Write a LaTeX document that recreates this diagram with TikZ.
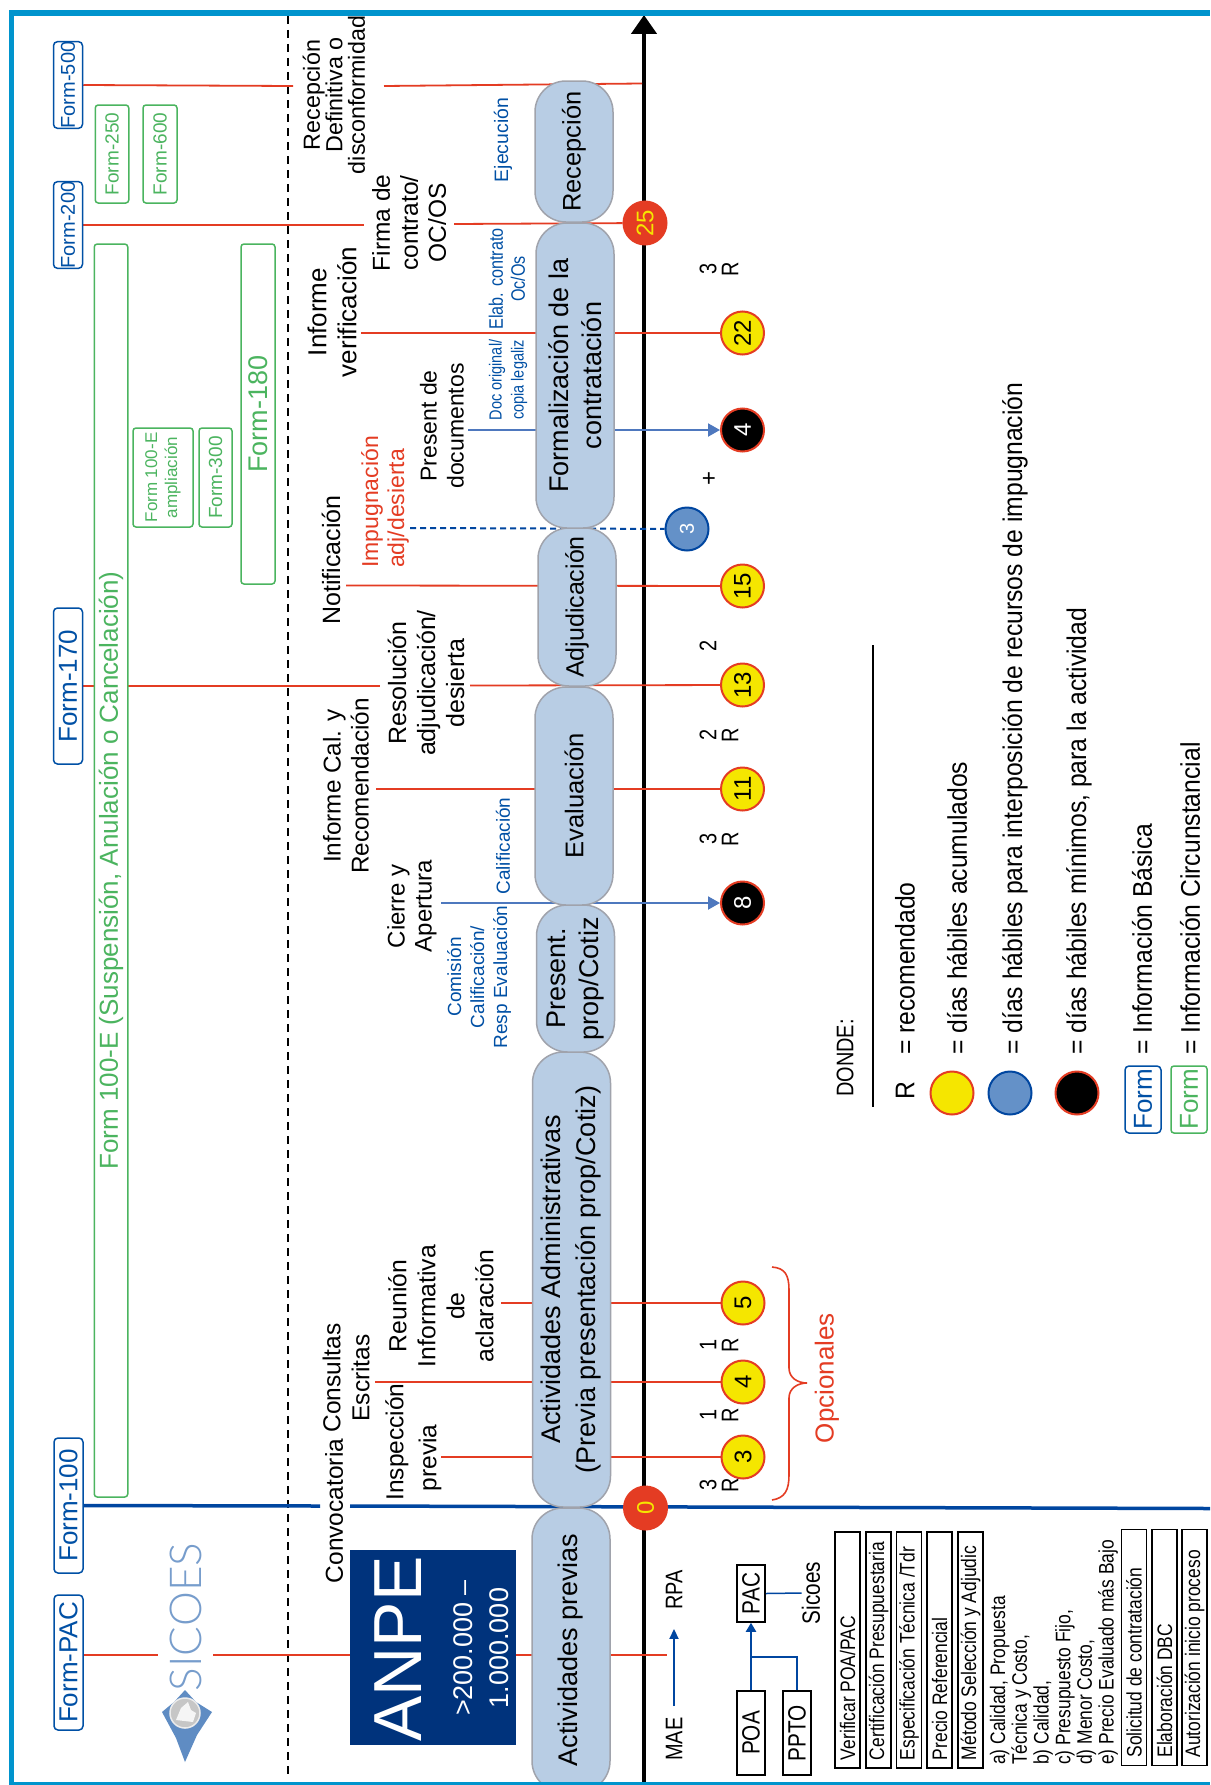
\documentclass[tikz,border=0pt]{standalone}
\usepackage{fontspec}
\setmainfont{Liberation Sans}
\newfontfamily\nrw[FakeStretch=0.83]{Liberation Sans}
\newfontfamily\lgd[FakeStretch=0.915]{Liberation Sans}
\newfontfamily\logofont{Lato Light}
\usetikzlibrary{backgrounds,arrows.meta,shapes.geometric}
\newcommand\fsl[2]{\fontsize{#1}{#2}\selectfont}
\definecolor{frameC}{RGB}{0,148,205}
\definecolor{navy}{RGB}{0,51,124}
\definecolor{bluF}{RGB}{0,80,165}
\definecolor{bluL}{RGB}{0,70,160}
\definecolor{bluA}{RGB}{78,120,190}
\definecolor{grn}{RGB}{75,180,95}
\definecolor{redL}{RGB}{228,60,35}
\definecolor{pillF}{RGB}{184,205,228}
\definecolor{pillD}{RGB}{160,163,172}
\definecolor{yel}{RGB}{245,230,0}
\definecolor{bluC}{RGB}{100,145,200}
\definecolor{logoB}{RGB}{95,140,195}
\tikzset{
 lbl/.style={rotate=90,inner sep=0pt,align=center},
 formb/.style={rotate=90,draw=bluF,line width=1.5pt,rounded corners=4pt,fill=white,inner sep=0pt,text=bluF,minimum height=29pt},
 formg/.style={rotate=90,draw=grn,line width=1.5pt,rounded corners=3pt,fill=white,inner sep=0pt,text=grn,align=center},
 pill/.style={rotate=90,draw=pillD,line width=1.5pt,fill=pillF,rounded corners=31pt,inner sep=0pt,align=center,minimum height=78pt},
 dot/.style={circle,rotate=90,minimum size=43pt,inner sep=0pt,line width=2pt,font=\fsl{24}{24}},
 ydot/.style={dot,fill=yel,draw=redL,text=black},
 kdot/.style={dot,fill=black,draw=redL,text=white},
 bdot/.style={dot,fill=bluC,draw=bluL,text=white,font=\fsl{20}{20}},
 rdot/.style={dot,fill=redL,draw=redL,text=yel},
 redl/.style={draw=redL,line width=1.8pt},
 bluar/.style={draw=bluA,line width=2pt,-{Triangle[length=12pt,width=13pt]}},
 bbox/.style={rotate=90,draw=black,line width=1.5pt,inner sep=0pt,minimum height=28pt},
 listbox/.style={rotate=90,draw=black,line width=1.5pt,inner ysep=0pt,inner xsep=4pt,minimum height=25pt,text width=228pt,align=flush left,font=\nrw\fsl{21}{24},execute at begin node={\hspace*{4pt}}},
 lgdtxt/.style={rotate=90,anchor=west,inner sep=0pt,font=\lgd\fsl{27}{30}},
 ftag/.style={font=\fsl{26}{28}},
 rlab/.style={lbl,font=\nrw\fsl{24}{22}},
}
\begin{document}
\begin{tikzpicture}[x=1pt,y=-1pt]
\useasboundingbox (0,0) rectangle (1210,1785);

% ---- top forms
\node[formb,ftag,minimum width=135pt] (fpac) at (68.5,1662.5) {Form-PAC};
\node[formb,ftag,minimum width=135pt] (f100) at (68.5,1505.5) {Form-100};
\node[formb,ftag,minimum width=156pt] (f170) at (68,686) {Form-170};
\node[formb,font=\fsl{20}{22},minimum width=86pt] (f200) at (68,225) {Form-200};
\node[formb,font=\fsl{20}{22},minimum width=86pt] (f500) at (68,85) {Form-500};

% ---- green forms
\node[formg,font=\fsl{26}{28},minimum width=1253pt,minimum height=33.5pt] (g100e) at (111,870.5) {\raisebox{-3pt}{Form 100-E (Suspensión, Anulación o Cancelación)}};
\node[formg,font=\fsl{19}{21},minimum width=98pt,minimum height=33.5pt] (g250) at (112,154) {Form-250};
\node[formg,font=\fsl{19}{21},minimum width=98pt,minimum height=34pt] (g600) at (160,154) {Form-600};
\node[formg,font=\fsl{17}{20},minimum width=99pt,minimum height=60pt] (gamp) at (163,477.5) {Form 100-E\\ampliación};
\node[formg,font=\fsl{19}{21},minimum width=99pt,minimum height=33pt] (g300) at (215.5,477.5) {Form-300};
\node[formg,font=\fsl{27}{29},minimum width=340pt,minimum height=34pt] (g180) at (258,414) {Form-180};

% ---- logo
\fill[logoB] (162,1712)--(174,1702)--(185,1690)--(196,1702)--(212,1712)--(197,1735)--(185,1762)--(176,1738)--cycle;
\fill[gray!45,draw=gray!15,line width=1.5pt] (185,1713) circle (15pt);
\fill[white!92!gray] (176,1720)--(181,1708)--(188,1702)--(191,1710)--(196,1713)--(193,1722)--cycle;
\node[lbl,text=logoB!85!white,font=\logofont\fsl{44}{44}] (logo) at (186,1617) {SICOES};

% ---- ANPE
\node[rotate=90,fill=navy,inner sep=0pt,minimum width=195pt,minimum height=166pt] (anpe) at (433,1647.5) {};
\node[lbl,text=white,font=\fsl{68}{68}] (anpet) at (398.5,1649) {ANPE};
\node[lbl,text=white,font=\fsl{27}{36}] (anper) at (481,1648) {>200.000 –\\1.000.000};

% ---- pills
\node[pill,font=\fsl{27}{30},minimum width=284pt] (p1) at (571,1650) {Actividades previas};
\node[pill,font=\fsl{27}{35},minimum width=455pt] (p2) at (571.5,1279.5) {Actividades Administrativas\\(Previa presentación prop/Cotiz)};
\node[pill,font=\fsl{27}{33},minimum width=147pt] (p3) at (575.5,978.5) {Present.\\prop/Cotiz};
\node[pill,font=\fsl{25.6}{30},minimum width=218pt] (p4) at (574,796) {Evaluación};
\node[pill,font=\fsl{25}{30},minimum width=158pt] (p5) at (577,607) {Adjudicación};
\node[pill,font=\fsl{27}{33},minimum width=305pt] (p6) at (575,375.5) {Formalización de la\\contratación};
\node[pill,font=\fsl{25.4}{30},minimum width=141pt] (p7) at (574,151.5) {Recepción};

% ---- dots
\node[rdot] (c0) at (645.5,1508) {0};
\node[rdot] (c25) at (645,223) {25};
\node[ydot] (c3) at (743,1457) {3};
\node[ydot] (c4) at (743,1382) {4};
\node[ydot] (c5) at (743,1303) {5};
\node[kdot] (k8) at (742.5,903) {8};
\node[ydot] (c11) at (742.5,789) {11};
\node[ydot] (c13) at (742.5,685) {13};
\node[ydot] (c15) at (742.5,586) {15};
\node[bdot] (b3) at (687,529) {3};
\node[kdot] (k4) at (742.5,430) {4};
\node[ydot] (c22) at (742.5,333) {22};

% ---- event labels
\node[lbl,font=\fsl{23.3}{22.5}] (tRec) at (334,95) {Recepción\\Definitiva o\\disconformidad};
\node[lbl,font=\fsl{24.5}{28}] (tFir) at (409,223) {Firma de\\contrato/\\OC/OS};
\node[lbl,font=\fsl{26}{30}] (tInf) at (332,312) {Informe\\verificación};
\node[lbl,font=\fsl{23}{27}] (tPre) at (442,426) {Present de\\documentos};
\node[lbl,align=left,text=redL,font=\fsl{23}{26}] (tImp) at (385,502) {Impugnación\\adj/desierta};
\node[lbl,font=\fsl{25}{28}] (tNot) at (331,560) {Notificación};
\node[lbl,font=\fsl{25}{29}] (tRes) at (426,683) {Resolución\\adjudicación/\\desierta};
\node[lbl,font=\fsl{24.3}{28}] (tCal) at (346,786) {Informe Cal. y\\Recomendación};
\node[lbl,font=\fsl{24}{27}] (tCie) at (412,906) {Cierre y\\Apertura};
\node[lbl,font=\fsl{24.5}{28}] (tCon) at (334,1511) {Convocatoria};
\node[lbl,font=\fsl{24.5}{29}] (tEsc) at (346,1378) {Consultas\\Escritas};
\node[lbl,font=\fsl{24.5}{28}] (tIns) at (397,1442) {Inspección};
\node[lbl,font=\fsl{24.5}{28}] (tPrv) at (430,1458) {previa};
\node[lbl,font=\fsl{24.7}{29}] (tReu) at (441,1306) {Reunión\\Informativa\\de\\aclaración};

% ---- blue activity labels
\node[lbl,text=bluF,font=\fsl{19.4}{22}] (tEje) at (503,140) {Ejecución};
\node[lbl,text=bluF,font=\nrw\fsl{19.5}{22}] (tEla) at (507,279) {Elab. contrato\\Oc/Os};
\node[lbl,text=bluF,font=\nrw\fsl{17.5}{22}] (tDoc) at (508,380) {Doc original/\\copia legaliz};
\node[lbl,text=bluF,font=\fsl{19}{22}] (tCalf) at (503,846) {Calificación};
\node[lbl,text=bluF,font=\fsl{19}{23}] (tCom) at (479,977) {Comisión\\Calificación/\\Resp Evaluación};

% ---- small R labels
\node[rlab] (r22) at (719,269) {3\\R};
\node[rlab] (r11) at (719,735) {2\\R};
\node[rlab] (r8) at (719,839) {3\\R};
\node[rlab] (r3) at (719,1485) {3\\R};
\node[rlab] (r4) at (719,1415) {1\\R};
\node[rlab] (r5) at (719,1345) {1\\R};
\node[lbl,font=\nrw\fsl{24}{22}] (n13) at (708,646) {2};
\node[lbl,font=\fsl{24}{24}] (plus) at (710,478) {+};

% ---- opcionales
\node[lbl,text=redL,font=\fsl{26}{28}] (tOpc) at (827,1378) {Opcionales};
\draw[redL,line width=1.6pt] (772,1500) .. controls (785,1498) and (789,1490) .. (789,1475) -- (789,1398) .. controls (789,1388) and (798,1383) .. (807,1383) .. controls (798,1383) and (789,1378) .. (789,1368) -- (789,1290) .. controls (789,1275) and (785,1268) .. (772,1267);

% ---- MAE / POA
\node[lbl,font=\nrw\fsl{24}{26}] (tMAE) at (674,1739) {MAE};
\node[lbl,font=\nrw\fsl{24}{26}] (tRPA) at (674,1590) {RPA};
\draw[draw=bluL,line width=1.8pt,-{Triangle[length=10pt,width=9pt]}] ([yshift=11pt]tMAE.east) -- ([yshift=-19pt]tRPA.west);
\node[bbox,font=\nrw\fsl{25}{27},minimum width=84pt] (poa) at (751,1733) {POA};
\node[bbox,font=\nrw\fsl{25}{27},minimum width=84pt] (ppto) at (797,1733) {PPTO};
\node[bbox,font=\nrw\fsl{25}{27},minimum width=57pt] (pac) at (751,1593.5) {PAC};
\node[lbl,font=\nrw\fsl{25}{27}] (tSic) at (811,1593) {Sicoes};
\coordinate (jn) at (751,1657);
\draw[draw=bluL,line width=2pt,-{Triangle[length=9pt,width=10pt]}] (poa.east) -- (pac.west);
\draw[draw=bluL,line width=2pt] (ppto.east) |- (jn);
\draw[draw=bluL,line width=1.5pt] (pac.south) -- (tSic.north);

% ---- list boxes
\node[listbox,minimum width=236pt] (l1) at (847.5,1650) {Verificar POA/PAC};
\node[listbox,minimum width=236pt] (l2) at (878.5,1650) {Certificación Presupuestaria};
\node[listbox,minimum width=236pt] (l3) at (909,1650) {Especificación Técnica /Tdr};
\node[listbox,minimum width=236pt] (l4) at (939.5,1650) {Precio Referencial};
\node[listbox,minimum width=236pt] (l5) at (970.5,1650) {Método Selección y Adjudic};
\node[rotate=90,anchor=west,inner sep=0pt,align=left,font=\nrw\fsl{21}{21.7}] (lst) at (1054,1765) {a) Calidad, Propuesta\\Técnica y Costo,\\b) Calidad,\\c) Presupuesto Fijo,\\d) Menor Costo,\\e) Precio Evaluado más Bajo};
\node[listbox,minimum width=236pt] (l6) at (1134,1647.5) {Solicitud de contratación};
\node[listbox,minimum width=236pt] (l7) at (1164.5,1647.5) {Elaboración DBC};
\node[listbox,minimum width=236pt] (l8) at (1194.5,1647.5) {Autorización inicio proceso};

% ---- legend
\node[lbl,font=\nrw\fsl{24}{26}] (tDon) at (845,1058) {DONDE:};
\coordinate (lg1) at (873,645);
\coordinate (lg2) at (873,1107);
\draw[black,line width=1.6pt] (lg1) -- (lg2);
\node[lbl,font=\lgd\fsl{27}{30}] (tR) at (905,1091) {R};
\node[lgdtxt] (le1) at (905,1055) {= recomendado};
\node[dot,fill=yel,draw=redL] (ly) at (952,1093) {};
\node[lgdtxt] (le2) at (957,1055) {= días hábiles acumulados};
\node[dot,fill=bluC,draw=bluL] (lb) at (1010,1093) {};
\node[lgdtxt] (le3) at (1015,1055) {= días hábiles para interposición de recursos de impugnación};
\node[dot,fill=black,draw=redL] (lk) at (1077,1093) {};
\node[lgdtxt] (le4) at (1079,1055) {= días hábiles mínimos, para la actividad};
\node[formb,font=\fsl{26}{28},minimum width=67pt,minimum height=36pt] (lf1) at (1143,1099.5) {Form};
\node[lgdtxt] (le5) at (1142,1055) {= Información Básica};
\node[formg,font=\fsl{26}{28},minimum width=67pt,minimum height=36pt] (lf2) at (1189,1099.5) {Form};
\node[lgdtxt] (le6) at (1190,1055) {= Información Circunstancial};

% ---- free ends of connectors
\coordinate (a500) at (293,86);
\coordinate (b500) at (384,86);
\coordinate (e500) at (642,83.5);
\coordinate (a200) at (364,225);
\coordinate (b200) at (454,224);
\coordinate (a22) at (361,333);
\coordinate (aK4) at (468,430);
\coordinate (aB3) at (410,528);
\coordinate (a15) at (346,585.5);
\coordinate (a13a) at (380,686);
\coordinate (a13b) at (470,685.5);
\coordinate (a11) at (376,789);
\coordinate (aK8) at (441,903);
\coordinate (a5) at (501,1303);
\coordinate (a4) at (375,1382);
\coordinate (a3) at (441,1457);
\coordinate (l100a) at (320,1506);
\coordinate (l100b) at (350,1506);
\coordinate (l100c) at (1210,1508.5);
\coordinate (lpaca) at (158,1655);
\coordinate (lpacb) at (213,1655);
\coordinate (lpacc) at (667,1655);
\coordinate (dash1) at (288,16);
\coordinate (dash2) at (288,1777);
\coordinate (axb) at (644,1785);
\coordinate (axt) at (644,15);

\begin{scope}[on background layer]
\fill[white] (0,0) rectangle (1210,1785);
\draw[black,line width=1.4pt,dash pattern=on 8pt off 6pt] (dash1) -- (dash2);
\draw[black,line width=4.5pt,-{Triangle[length=19pt,width=25pt]}] (axb) -- (axt);
\draw[redl] (f500.south) -- (a500);
\draw[redl] (b500) -- (e500);
\draw[redl] (f200.south) -- (a200);
\draw[redl] (b200) -- (c25);
\draw[redl] (a22) -- (c22);
\draw[bluar] (aK4) -- (k4);
\draw[draw=bluL,line width=2pt,dash pattern=on 6pt off 4pt] (aB3) -- (b3);
\draw[redl] (a15) -- (c15);
\draw[redl] (f170.south) -- (a13a);
\draw[redl] (a13b) -- (c13);
\draw[redl] (a11) -- (c11);
\draw[bluar] (aK8) -- (k8);
\draw[redl] (a5) -- (c5);
\draw[redl] (a4) -- (c4);
\draw[redl] (a3) -- (c3);
\draw[draw=bluL,line width=3.5pt] (f100.south) -- (l100a);
\draw[draw=bluL,line width=3.5pt] (l100b) -- (l100c);
\draw[redl] (fpac.south |- lpaca) -- (lpaca);
\draw[redl] (lpacb) -- (anpe.north |- lpacb);
\draw[redl] (anpe.south |- lpacc) -- (lpacc);
\end{scope}

% ---- frame
\fill[frameC] (9,10) rectangle (1210,16);
\fill[frameC] (9,10) rectangle (13.5,1785);
\fill[frameC] (9,1782) rectangle (1210,1785);
\end{tikzpicture}
\end{document}
